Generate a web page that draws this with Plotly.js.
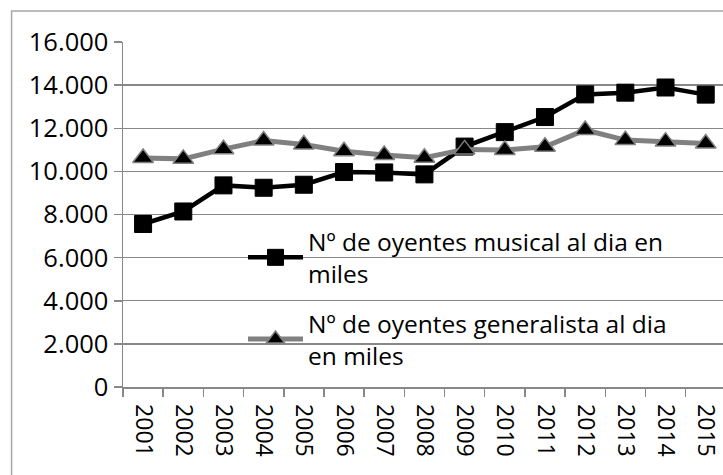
<!DOCTYPE html>
<html>
<head>
<meta charset="utf-8">
<script src="https://cdn.plot.ly/plotly-3.0.1.min.js"></script>
<style>html,body{margin:0;padding:0;background:#fff;overflow:hidden}</style>
</head>
<body>
<div id="chart" style="width:723px;height:475px"></div>
<script>
var years = ["2001","2002","2003","2004","2005","2006","2007","2008","2009","2010","2011","2012","2013","2014","2015"];
var musical = [7560, 8140, 9350, 9240, 9380, 9970, 9950, 9860, 11150, 11820, 12520, 13570, 13650, 13890, 13560];
var generalista = [10620, 10580, 11030, 11430, 11250, 10930, 10760, 10630, 11020, 10990, 11140, 11920, 11450, 11380, 11290];
var nameMusical = "Nº de oyentes musical al dia en<br>miles";
var nameGeneralista = "Nº de oyentes generalista al dia<br>en miles";
var yTicks = [0, 2000, 4000, 6000, 8000, 10000, 12000, 14000, 16000];

var FONT = "Open Sans, Noto Sans, sans-serif";
var traces = [
  {
    x: years, y: musical, name: nameMusical, type: "scatter", mode: "lines+markers",
    legendgroup: "a",
    line: {color: "#000000", width: 4.5},
    marker: {symbol: "square", size: 17, color: "#000000", line: {color: "#000000", width: 1}},
    cliponaxis: false
  },
  {
    x: years, y: generalista, name: nameGeneralista, type: "scatter", mode: "lines+markers",
    legendgroup: "b",
    line: {color: "#808080", width: 5},
    marker: {symbol: "triangle-up", size: 18, color: "#000000", line: {color: "#808080", width: 1.5}},
    cliponaxis: false
  }
];

var layout = {
  width: 723, height: 475,
  margin: {l: 122.5, r: 0, t: 42, b: 88, autoexpand: false},
  paper_bgcolor: "#ffffff", plot_bgcolor: "#ffffff",
  separators: ",.",
  font: {family: FONT, size: 24.5, color: "#000000"},
  showlegend: true,
  legend: {
    x: 0.2, y: 0.487, xanchor: "left", yanchor: "top",
    bgcolor: "rgba(0,0,0,0)", borderwidth: 0,
    font: {family: FONT, size: 24.5, color: "#000000"},
    itemwidth: 55,
    tracegroupgap: 15, traceorder: "grouped"
  },
  xaxis: {
    type: "category", range: [-0.5, 14.43],
    showgrid: false, zeroline: false,
    showline: true, linecolor: "#888888", linewidth: 1.5,
    ticks: "outside", ticklen: 8, tickwidth: 1.5, tickcolor: "#888888",
    tickson: "boundaries", tickangle: 90, ticklabelstandoff: 11,
    tickfont: {family: FONT, size: 23, color: "#000000"},
    fixedrange: true
  },
  yaxis: {
    range: [0, 16000], tickvals: yTicks, tickformat: ",d",
    showgrid: true, gridcolor: "#888888", gridwidth: 1.4,
    zeroline: false,
    showline: true, linecolor: "#888888", linewidth: 1.5,
    ticks: "outside", ticklen: 8, tickwidth: 1.5, tickcolor: "#888888",
    tickfont: {family: FONT, size: 25.5, color: "#000000"},
    fixedrange: true
  },
  shapes: [
    {type: "rect", xref: "paper", yref: "paper",
     x0: -0.1857, x1: 1.2, y0: -0.5, y1: 1.09,
     line: {color: "#a6a6a6", width: 1.5}, fillcolor: "rgba(0,0,0,0)", layer: "below"}
  ]
};

Plotly.newPlot("chart", traces, layout, {staticPlot: true, displayModeBar: false});
</script>
</body>
</html>
